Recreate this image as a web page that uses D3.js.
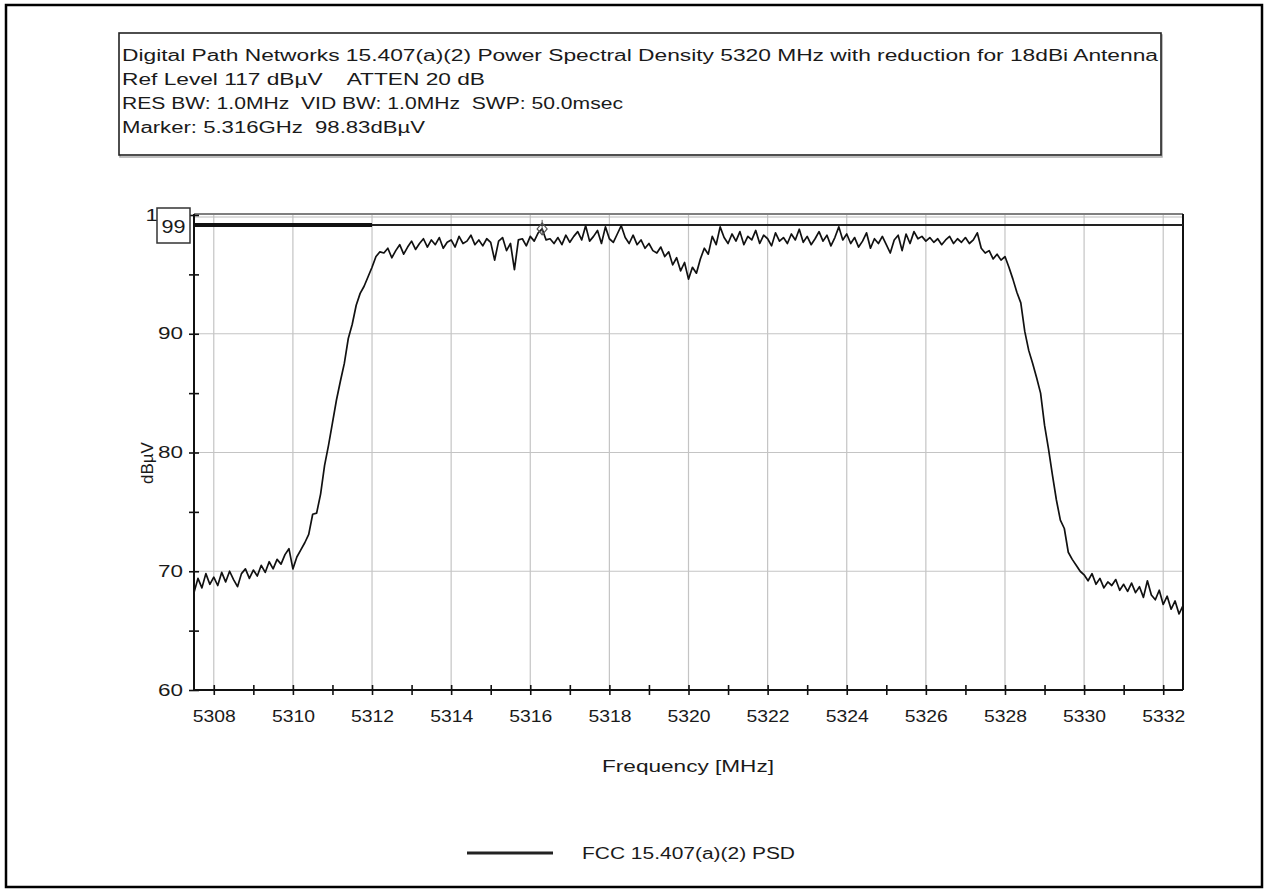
<!DOCTYPE html>
<html>
<head>
<meta charset="utf-8">
<script src="https://cdn.jsdelivr.net/npm/d3@7"></script>
<style>
  html, body { margin: 0; padding: 0; background: #fff; }
  svg { display: block; }
  text { font-family: Arial, "Liberation Sans", Helvetica, sans-serif; fill: #1a1a1a; white-space: pre; }
</style>
</head>
<body>
<svg id="chart" width="1268" height="890"></svg>
<script>
// ---------------- data ----------------
const titleLines = [
  "Digital Path Networks 15.407(a)(2) Power Spectral Density 5320 MHz with reduction for 18dBi Antenna",
  "Ref Level 117 dBµV    ATTEN 20 dB",
  "RES BW: 1.0MHz  VID BW: 1.0MHz  SWP: 50.0msec",
  "Marker: 5.316GHz  98.83dBµV"
];
const xLabel = "Frequency [MHz]";
const yLabel = "dBµV";
const legendLabel = "FCC 15.407(a)(2) PSD";
const freqStart = 5307.5;   // MHz, first sample
const freqStep = 0.1;       // MHz between samples
const xDomain = [5307.5, 5332.5];
const yDomain = [60, 100];
const xMajorTicks = [5308, 5310, 5312, 5314, 5316, 5318, 5320, 5322, 5324, 5326, 5328, 5330, 5332];
const xMinorTicks = [5309, 5311, 5313, 5315, 5317, 5319, 5321, 5323, 5325, 5327, 5329, 5331];
const yMajorTicks = [60, 70, 80, 90, 100];
const yMinorTicks = [65, 75, 85, 95];
const yGridTicks = [70, 80, 90];
const limitLevel = 99.16;
const limitLabel = "99";
const limitBoldEnd = 5312;
const markerFreq = 5316.3;
const markerLevel = 98.83;
// trace, dBµV, one value per 0.1 MHz from 5307.5 MHz
const psd = [
  68.2, 69.4, 68.6, 69.8, 68.9,
  69.5, 68.8, 69.9, 69.1, 70.0, 69.3, 68.7, 69.8, 70.2, 69.4,
  70.1, 69.6, 70.5, 69.9, 70.8, 70.2, 71.0, 70.6, 71.4, 71.9,
  70.2, 71.2, 71.8, 72.4, 73.1, 74.8, 74.9, 76.5, 78.9, 80.6,
  82.5, 84.4, 86.0, 87.5, 89.6, 90.8, 92.4, 93.4, 94.0, 94.8,
  95.6, 96.5, 96.9, 96.8, 97.2, 96.4, 97.0, 97.5, 96.7, 97.3,
  97.8, 97.1, 97.6, 98.0, 97.3, 97.9, 97.5, 98.1, 97.2, 97.7,
  97.9, 97.3, 98.2, 97.6, 97.8, 98.3, 97.5, 97.9, 97.4, 98.0,
  97.7, 96.2, 97.8, 98.1, 97.0, 97.6, 95.4, 97.9, 98.0, 97.4,
  98.2, 97.8, 98.5, 98.83, 97.9, 98.0, 97.6, 98.1, 97.5, 98.3,
  97.7, 98.2, 98.6, 97.9, 99.1, 97.8, 98.2, 98.7, 97.6, 99.0,
  98.0, 97.7, 98.4, 99.1, 98.1, 97.6, 98.3, 97.5, 97.9, 97.2,
  97.6, 97.0, 96.8, 97.3, 96.5, 96.9, 95.8, 96.4, 95.3, 96.0,
  94.6, 95.6, 95.1, 96.3, 97.2, 96.7, 98.2, 97.5, 99.0, 98.1,
  97.6, 98.4, 97.8, 98.6, 97.5, 98.2, 97.9, 98.7, 97.6, 98.3,
  98.0, 97.4, 98.5, 97.8, 98.1, 97.6, 98.4, 97.9, 98.8, 97.7,
  98.2, 97.5, 98.0, 98.6, 97.8, 98.3, 97.4, 98.1, 99.0, 97.9,
  98.4, 97.6, 98.1, 97.3, 97.8, 98.5, 97.2, 98.0, 97.6, 98.2,
  97.5, 96.8, 97.9, 98.3, 97.0, 98.4, 97.6, 98.6, 98.0, 98.2,
  97.8, 98.1, 97.7, 98.0, 97.5, 97.9, 98.2, 97.6, 98.0, 97.7,
  98.1, 97.6, 97.9, 98.5, 97.2, 96.8, 97.0, 96.3, 96.7, 96.2,
  96.5, 95.6, 94.6, 93.5, 92.6, 90.2, 88.6, 87.5, 86.3, 85.0,
  82.3, 80.3, 78.1, 76.0, 74.3, 73.6, 71.6, 71.0, 70.5, 70.0,
  69.7, 69.2, 69.8, 68.9, 69.4, 68.6, 69.1, 68.8, 69.3, 68.4,
  68.9, 68.3, 69.0, 68.2, 68.7, 67.8, 69.2, 68.0, 67.6, 68.4,
  67.2, 67.9, 66.8, 67.5, 66.4, 67.1
];

// ---------------- drawing ----------------
const svg = d3.select("#chart");
const W = 1268, H = 890;
const plot = { left: 194, right: 1183, top: 215, bottom: 690 };
const x = d3.scaleLinear().domain(xDomain).range([plot.left, plot.right]);
const y = d3.scaleLinear().domain(yDomain).range([plot.bottom, plot.top]);
const series = psd.map((v, i) => ({ f: freqStart + i * freqStep, v }));

// outer frame
svg.append("rect").attr("x", 6).attr("y", 5).attr("width", W - 12).attr("height", H - 8)
  .attr("fill", "#fff").attr("stroke", "#000").attr("stroke-width", 2.5);

// title box
const tb = svg.append("g");
tb.append("rect").attr("x", 120).attr("y", 35).attr("width", 1042).attr("height", 122)
  .attr("fill", "none").attr("stroke", "#aaa").attr("stroke-width", 1.5);
tb.append("rect").attr("x", 119).attr("y", 33).attr("width", 1042).attr("height", 122)
  .attr("fill", "#fff").attr("stroke", "#222").attr("stroke-width", 1.6);
const titleWidths = [1036, 363, 501, 303];
const titleTexts = tb.selectAll("text.title").data(titleLines).join("text")
  .attr("class", "title").attr("xml:space", "preserve")
  .attr("x", 122).attr("y", (d, i) => 61 + i * 24)
  .style("font-size", "16px").text(d => d);

// gridlines
const grid = svg.append("g");
grid.selectAll("line.vg").data(xMajorTicks).join("line")
  .attr("x1", d => x(d)).attr("x2", d => x(d)).attr("y1", plot.top).attr("y2", plot.bottom)
  .attr("stroke", "#c4c4c4").attr("stroke-width", 1.2);
grid.selectAll("line.hg").data(yGridTicks).join("line")
  .attr("y1", d => y(d)).attr("y2", d => y(d)).attr("x1", plot.left).attr("x2", plot.right)
  .attr("stroke", "#c4c4c4").attr("stroke-width", 1.2);

// plot frame (top and right)
svg.append("line").attr("x1", plot.left).attr("x2", plot.right).attr("y1", plot.top - 1).attr("y2", plot.top - 1)
  .attr("stroke", "#555").attr("stroke-width", 1.5);
svg.append("line").attr("x1", plot.left).attr("x2", plot.right).attr("y1", plot.top + 2).attr("y2", plot.top + 2)
  .attr("stroke", "#bbb").attr("stroke-width", 1);
svg.append("line").attr("x1", plot.right).attr("x2", plot.right).attr("y1", plot.top - 1).attr("y2", plot.bottom)
  .attr("stroke", "#111").attr("stroke-width", 2);

// limit line
svg.append("line").attr("x1", plot.left).attr("x2", plot.right).attr("y1", y(limitLevel)).attr("y2", y(limitLevel))
  .attr("stroke", "#222").attr("stroke-width", 2.2);
svg.append("line").attr("x1", plot.left).attr("x2", x(limitBoldEnd)).attr("y1", y(limitLevel)).attr("y2", y(limitLevel))
  .attr("stroke", "#111").attr("stroke-width", 4);

// trace
svg.append("path").datum(series)
  .attr("fill", "none").attr("stroke", "#111").attr("stroke-width", 1.7).attr("stroke-linejoin", "round")
  .attr("d", d3.line().x(d => x(d.f)).y(d => y(d.v)));

// marker
const mx = x(markerFreq), my = y(markerLevel);
svg.append("path").attr("d", `M${mx},${my - 6} L${mx + 5},${my} L${mx},${my + 6} L${mx - 5},${my} Z`)
  .attr("fill", "none").attr("stroke", "#555").attr("stroke-width", 1.2);
svg.append("line").attr("x1", mx).attr("x2", mx).attr("y1", my - 9).attr("y2", my + 6)
  .attr("stroke", "#555").attr("stroke-width", 1);

// axes
function noDomain(g) { g.select(".domain").remove(); }
const xAxis = svg.append("g").attr("transform", `translate(0,${plot.bottom})`)
  .call(d3.axisBottom(x).tickValues(xMajorTicks).tickFormat(d3.format("d")).tickSize(5).tickPadding(16))
  .call(noDomain);
const xAxisMinor = svg.append("g").attr("transform", `translate(0,${plot.bottom})`)
  .call(d3.axisBottom(x).tickValues(xMinorTicks).tickFormat("").tickSize(5))
  .call(noDomain);
[xAxis, xAxisMinor].forEach(g => g.selectAll(".tick line").attr("y1", -5).attr("y2", 5)
  .attr("stroke", "#111").attr("stroke-width", 1.6));
xAxis.selectAll(".tick text").style("font-size", "16px").attr("fill", "#1a1a1a");

const yAxis = svg.append("g").attr("transform", `translate(${plot.left},0)`)
  .call(d3.axisLeft(y).tickValues(yMajorTicks).tickFormat(d3.format("d")).tickSize(5).tickPadding(6))
  .call(noDomain);
const yAxisMinor = svg.append("g").attr("transform", `translate(${plot.left},0)`)
  .call(d3.axisLeft(y).tickValues(yMinorTicks).tickFormat("").tickSize(5))
  .call(noDomain);
[yAxis, yAxisMinor].forEach(g => g.selectAll(".tick line").attr("x1", -5).attr("x2", 5)
  .attr("stroke", "#111").attr("stroke-width", 1.6));
yAxis.selectAll(".tick text").style("font-size", "16px").attr("fill", "#1a1a1a");

// axis lines
svg.append("line").attr("x1", plot.left).attr("x2", plot.left).attr("y1", plot.top - 1).attr("y2", plot.bottom)
  .attr("stroke", "#111").attr("stroke-width", 2);
svg.append("line").attr("x1", plot.left).attr("x2", plot.right).attr("y1", plot.bottom).attr("y2", plot.bottom)
  .attr("stroke", "#111").attr("stroke-width", 2);

// limit label box
const lb = svg.append("g");
lb.append("rect").attr("x", 157).attr("y", 208).attr("width", 33).attr("height", 35)
  .attr("fill", "#fff").attr("stroke", "#333").attr("stroke-width", 1.5);
const limitText = lb.append("text").attr("x", 173.5).attr("y", 233).attr("text-anchor", "middle")
  .style("font-size", "18px").text(limitLabel);

// axis titles
const xTitle = svg.append("text").attr("x", 688).attr("y", 772).attr("text-anchor", "middle")
  .style("font-size", "16px").text(xLabel);
svg.append("text").attr("transform", `translate(153,463) rotate(-90)`).attr("text-anchor", "middle")
  .style("font-size", "17px").text(yLabel);

// legend
svg.append("line").attr("x1", 467).attr("x2", 553).attr("y1", 853).attr("y2", 853)
  .attr("stroke", "#222").attr("stroke-width", 3);
const legendText = svg.append("text").attr("x", 582).attr("y", 859)
  .style("font-size", "16px").text(legendLabel);

// horizontal stretch of text to match the reference's aspect
function fit(el, w) {
  el.setAttribute("textLength", w.toFixed(1));
  el.setAttribute("lengthAdjust", "spacingAndGlyphs");
}
titleTexts.nodes().forEach((el, i) => fit(el, titleWidths[i]));
xAxis.selectAll(".tick text").nodes().forEach(el => fit(el, 43));
yAxis.selectAll(".tick text").nodes().forEach(el => fit(el, el.textContent.length * 12.5));
fit(limitText.node(), 24);
fit(xTitle.node(), 172);
fit(legendText.node(), 213);
</script>
</body>
</html>
